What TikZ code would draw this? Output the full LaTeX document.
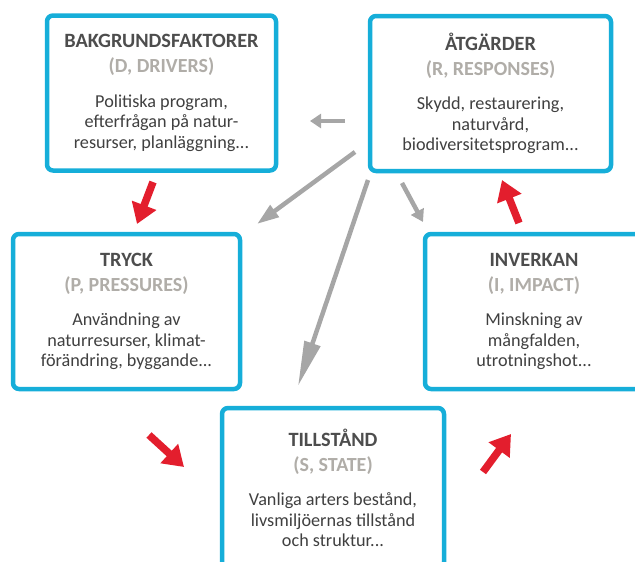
\documentclass[tikz,border=0pt]{standalone}
\usepackage{fontspec}
\setmainfont{Carlito}
\usepackage{tikz}
\usetikzlibrary{arrows.meta}
\tikzset{
  dpsirbox/.style = {draw=xcyan, line width=4.5pt, rounded corners=6pt, fill=white, minimum width=#1, minimum height=155pt, align=center, text=xtext, font=\fontsize{18.2}{20.5}\selectfont, inner sep=0pt},
  redarrow/.style = {draw=xred, line width=7.5pt, -{Triangle[length=20pt, width=25pt]}},
  grayarrow/.style = {draw=xgray, line width=4.5pt, -{Triangle[length=#1, width=14pt]}},
  grayarrow/.default = 12pt,
}
\definecolor{xcyan}{HTML}{16AED9}
\definecolor{xred}{HTML}{E31E2D}
\definecolor{xgray}{HTML}{A6A6A6}
\definecolor{xtitle}{HTML}{4D4D4D}
\definecolor{xsub}{HTML}{B0ADA8}
\definecolor{xtext}{HTML}{404040}
\newcommand{\boxhead}[2]{{\fontsize{20.3}{20}\selectfont\bfseries\color{xtitle}#1}\\[4.5pt]{\fontsize{20}{20}\selectfont\bfseries\color{xsub}#2}\\[14pt]}

\begin{document}
\begin{tikzpicture}[x=1pt, y=-1pt]
			\clip (0,0) rectangle (635,562);
			\node[dpsirbox=229pt] (D) at (161.5,93) {\boxhead{BAKGRUNDSFAKTORER}{(D, DRIVERS)}Politiska program,\\ efterfrågan på natur-\\ resurser, planläggning...};
			\node[dpsirbox=241pt] (R) at (490.5,93.5) {\boxhead{ÅTGÄRDER}{(R, RESPONSES)}Skydd, restaurering,\\ naturvård,\\ biodiversitetsprogram...};
			\node[dpsirbox=227pt] (P) at (126.5,311.5) {\boxhead{TRYCK}{(P, PRESSURES)}Användning av\\ naturresurser, klimat-\\ förändring, byggande...};
			\node[dpsirbox=218pt] (I) at (534,311.5) {\boxhead{INVERKAN}{(I, IMPACT)}Minskning av\\ mångfalden,\\ utrotningshot...};
			\node[dpsirbox=222pt, minimum height=160pt] (S) at (333,488) {\boxhead{TILLSTÅND}{(S, STATE)}Vanliga arters bestånd,\\ livsmiljöernas tillstånd\\ och struktur...};
			% red arrows round the cycle
			\coordinate (dp1) at (153,182); \coordinate (dp2) at (137,224);
			\coordinate (ps1) at (149,435); \coordinate (ps2) at (184,467);
			\coordinate (si1) at (483,472); \coordinate (si2) at (511,434);
			\coordinate (ir1) at (519,223); \coordinate (ir2) at (502,180);
			\draw[redarrow] (dp1) -- (dp2);
			\draw[redarrow] (ps1) -- (ps2);
			\draw[redarrow] (si1) -- (si2);
			\draw[redarrow] (ir1) -- (ir2);
			% grey arrows out of the responses
			\coordinate (rd1) at (345,121); \coordinate (rd2) at (310,121);
			\coordinate (rp1) at (355,152); \coordinate (rp2) at (257,224);
			\coordinate (rs1) at (368,180); \coordinate (rs2) at (298,386);
			\coordinate (ri1) at (402,183); \coordinate (ri2) at (423,222);
			\draw[grayarrow=11pt] (rd1) -- (rd2);
			\draw[grayarrow=22pt] (rp1) -- (rp2);
			\draw[grayarrow=45pt, -{Triangle[length=45pt, width=16pt]}] (rs1) -- (rs2);
			\draw[grayarrow] (ri1) -- (ri2);
		\end{tikzpicture}
\end{document}
